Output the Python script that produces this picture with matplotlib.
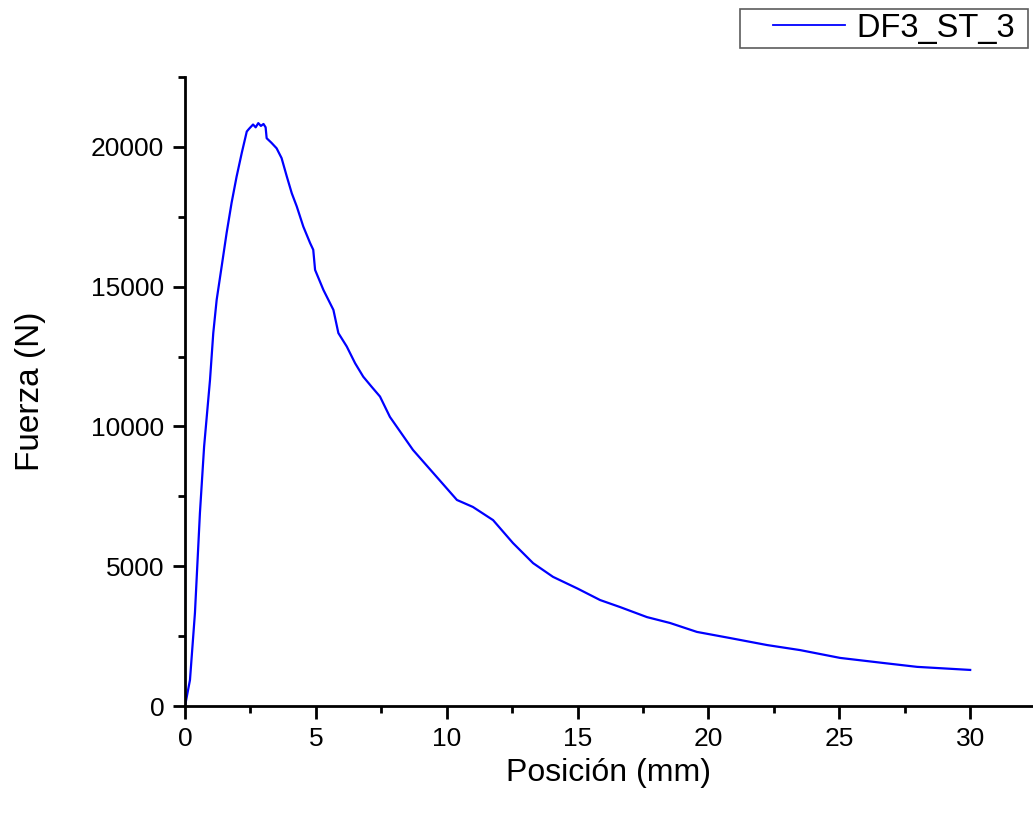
import matplotlib
matplotlib.use("Agg")
import matplotlib.pyplot as plt
from matplotlib.ticker import MultipleLocator
from matplotlib.legend_handler import HandlerLine2D

plt.rcParams['font.family'] = ['Liberation Sans', 'DejaVu Sans']

posicion_mm = [0, 0.19, 0.38, 0.57, 0.73, 0.955, 1.08, 1.21, 1.40, 1.59, 1.78, 1.97,
               2.17, 2.36, 2.45, 2.6, 2.7, 2.8, 2.9, 3.0, 3.08, 3.12, 3.30, 3.50,
               3.69, 3.89, 4.08, 4.27, 4.52, 4.78, 4.90, 4.97, 5.29, 5.67, 5.86, 6.18,
               6.50, 6.81, 7.13, 7.45, 7.83, 8.71, 9.48, 10.39, 11.0, 11.77, 12.53,
               13.3, 14.06, 15.0, 15.86, 16.62, 17.65, 18.53, 19.56, 20.83, 22.24,
               23.5, 25.03, 26.67, 27.97, 30.0]
fuerza_n = [0, 930, 3330, 6900, 9280, 11660, 13340, 14530, 15720, 16920, 18000, 18930,
            19790, 20550, 20650, 20800, 20700, 20850, 20750, 20820, 20700, 20310, 20150,
            19950, 19600, 18940, 18340, 17870, 17150, 16560, 16320, 15600, 14880, 14170,
            13340, 12860, 12260, 11780, 11420, 11070, 10340, 9160, 8340, 7370, 7120,
            6650, 5830, 5110, 4620, 4200, 3790, 3540, 3180, 2970, 2650, 2430, 2180,
            2000, 1720, 1540, 1400, 1290]
serie = "DF3_ST_3"

fig = plt.figure(figsize=(10.33, 8.14), dpi=100)
ax = fig.add_axes([185/1033, 108/814, 1 - 185/1033, (706-77)/814])

line, = ax.plot(posicion_mm, fuerza_n, color='#0000ff', lw=1.6, label=serie)

ax.set_xlim(0, 32.4)
ax.set_ylim(0, 22500)
ax.xaxis.set_major_locator(MultipleLocator(5))
ax.xaxis.set_minor_locator(MultipleLocator(2.5))
ax.yaxis.set_major_locator(MultipleLocator(5000))
ax.yaxis.set_minor_locator(MultipleLocator(2500))

for s in ['top', 'right']:
    ax.spines[s].set_visible(False)
for s in ['left', 'bottom']:
    ax.spines[s].set_linewidth(2.0)

ax.tick_params(which='major', direction='out', length=9, width=2.0, labelsize=19, pad=6)
ax.tick_params(which='minor', direction='out', length=5, width=2.0)

ax.set_xlabel('Posición (mm)', fontsize=23, labelpad=5)
ax.set_ylabel('Fuerza (N)', fontsize=24, labelpad=32)

fs = 23.5
leg = fig.legend(handles=[line], labels=[serie + ' '], loc='upper right',
                 bbox_to_anchor=(1028/1033, 1 - 9/814), fontsize=fs,
                 frameon=True, fancybox=False, shadow=False,
                 borderpad=0.12, borderaxespad=0, handlelength=3.1,
                 handletextpad=0.37,
                 handler_map={line: HandlerLine2D(xpad=0.9)})
leg.get_frame().set_edgecolor('#333333')
leg.get_frame().set_linewidth(1.2)
leg.get_lines()[0].set_linewidth(1.3)

fig.savefig('out.png', dpi=100)
